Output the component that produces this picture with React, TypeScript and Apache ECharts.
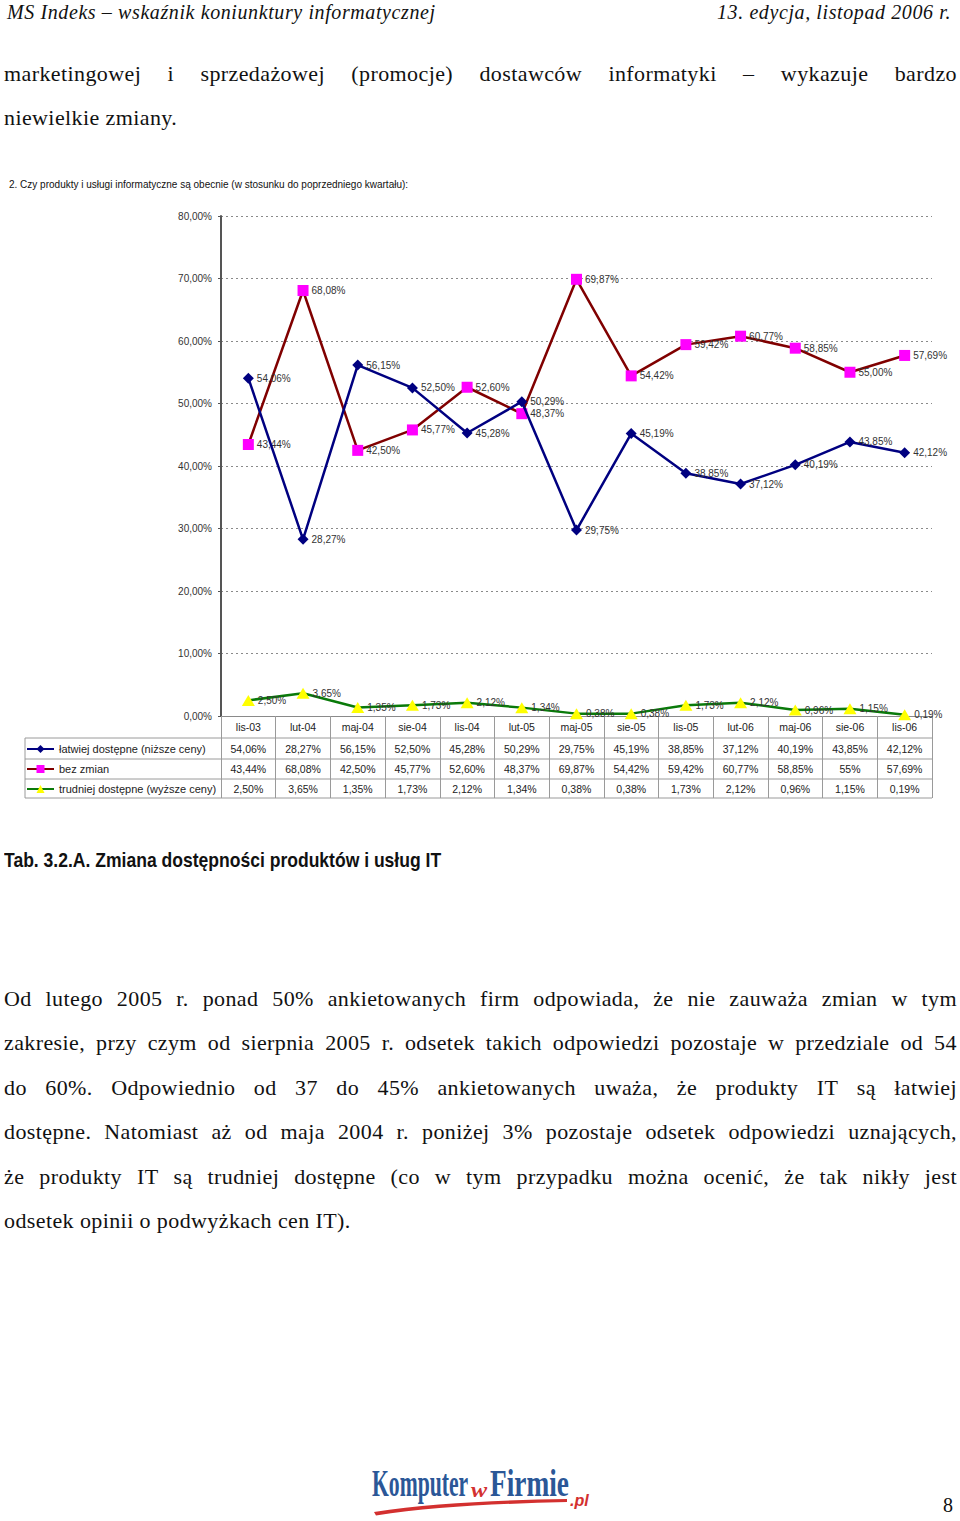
import React, { useEffect, useRef } from 'react';
import * as echarts from 'echarts';

// ---------- data ----------
const categories = ['lis-03', 'lut-04', 'maj-04', 'sie-04', 'lis-04', 'lut-05', 'maj-05', 'sie-05', 'lis-05', 'lut-06', 'maj-06', 'sie-06', 'lis-06'];
const easierValues = [54.06, 28.27, 56.15, 52.5, 45.28, 50.29, 29.75, 45.19, 38.85, 37.12, 40.19, 43.85, 42.12];
const unchangedValues = [43.44, 68.08, 42.5, 45.77, 52.6, 48.37, 69.87, 54.42, 59.42, 60.77, 58.85, 55, 57.69];
const harderValues = [2.5, 3.65, 1.35, 1.73, 2.12, 1.34, 0.38, 0.38, 1.73, 2.12, 0.96, 1.15, 0.19];
const seriesNames = ['łatwiej dostępne (niższe ceny)', 'bez zmian', 'trudniej dostępne (wyższe ceny)'];
const yMin = 0;
const yMax = 80;
const yStep = 10;

// ---------- texts ----------
const chartTitle = '2. Czy produkty i usługi informatyczne są obecnie (w stosunku do poprzedniego kwartału):';
const headerLeft = 'MS Indeks – wskaźnik koniunktury informatycznej';
const headerRight = '13. edycja, listopad 2006 r.';
const para1 = [
  'marketingowej i sprzedażowej (promocje) dostawców informatyki – wykazuje bardzo',
  'niewielkie zmiany.',
];
const caption = 'Tab. 3.2.A. Zmiana dostępności produktów i usług IT';
const para2 = [
  'Od lutego 2005 r. ponad 50% ankietowanych firm odpowiada, że nie zauważa zmian w tym',
  'zakresie, przy czym od sierpnia 2005 r. odsetek takich odpowiedzi pozostaje w przedziale od 54',
  'do 60%. Odpowiednio od 37 do 45% ankietowanych uważa, że produkty IT są łatwiej',
  'dostępne. Natomiast aż od maja 2004 r. poniżej 3% pozostaje odsetek odpowiedzi uznających,',
  'że produkty IT są trudniej dostępne (co w tym przypadku można ocenić, że tak nikły jest',
  'odsetek opinii o podwyżkach cen IT).',
];
const pageNumber = '8';

const fmt2 = (v: number) => v.toFixed(2).replace('.', ',') + '%';
const fmtTable = (v: number) => (Number.isInteger(v) ? `${v}%` : fmt2(v));

const SANS = '"Liberation Sans", Arial, sans-serif';
const SERIF = '"Liberation Serif", "Times New Roman", serif';

function TextLine({ text, top, justify }: any) {
  const base: any = {
    position: 'absolute',
    left: 4,
    width: 953,
    top,
    height: 26,
    fontFamily: SERIF,
    fontSize: 22,
    letterSpacing: '0.4px',
    lineHeight: '26px',
    color: '#111',
    whiteSpace: 'nowrap',
  };
  if (justify) {
    return (
      <div style={{ ...base, display: 'flex', justifyContent: 'space-between' }}>
        {text.split(' ').map((w: string, i: number) => (
          <span key={i}>{w}</span>
        ))}
      </div>
    );
  }
  return <div style={base}>{text}</div>;
}

function Chart() {
  const ref = useRef<HTMLDivElement>(null);
  useEffect(() => {
    if (!ref.current) return;
    const chart = echarts.init(ref.current, undefined, { renderer: 'svg' });
    const rows = [easierValues, unchangedValues, harderValues];
    const labelCommon = {
      show: true,
      position: 'right',
      distance: 3,
      fontSize: 10,
      color: '#333',
      fontFamily: SANS,
      formatter: (p: any) => fmt2(p.value),
    };
    chart.setOption({
      animation: false,
      backgroundColor: 'transparent',
      textStyle: { fontFamily: SANS },
      title: {
        text: chartTitle,
        left: 4,
        top: 174,
        textStyle: { fontSize: 10, fontWeight: 'normal', color: '#111', fontFamily: SANS },
      },
      legend: {
        orient: 'vertical',
        left: 26,
        top: 743,
        padding: 0,
        itemWidth: 27,
        itemHeight: 10,
        itemGap: 8,
        data: seriesNames,
        textStyle: { fontSize: 11, color: '#222', lineHeight: 12, fontFamily: SANS },
      },
      grid: { left: 221, top: 216, width: 711, height: 500, containLabel: false },
      xAxis: [
        {
          type: 'category',
          data: categories,
          boundaryGap: true,
          axisLine: { show: true, lineStyle: { color: '#8a8a8a', width: 1 } },
          axisTick: { show: true, length: 82, lineStyle: { color: '#9a9a9a' } },
          axisLabel: { interval: 0, margin: 5, fontSize: 10.5, color: '#222' },
          splitLine: { show: false },
        },
        ...rows.map((row, i) => ({
          type: 'category',
          data: categories,
          position: 'bottom',
          offset: 22 + 20 * i,
          boundaryGap: true,
          axisLine: { show: false },
          axisTick: { show: false },
          splitLine: { show: false },
          axisLabel: {
            interval: 0,
            margin: 5,
            fontSize: 10.5,
            color: '#222',
            formatter: (_v: string, idx: number) => fmtTable(row[idx]),
          },
        })),
      ],
      yAxis: {
        type: 'value',
        min: yMin,
        max: yMax,
        interval: yStep,
        axisLine: { show: true, lineStyle: { color: '#555', width: 2 } },
        axisTick: { show: true, length: 3, lineStyle: { color: '#555' } },
        axisLabel: { margin: 9, fontSize: 10, color: '#333', formatter: (v: number) => fmt2(v) },
        splitLine: { show: true, lineStyle: { color: '#8a8a8a', type: [2, 3], width: 1 } },
      },
      graphic: [
        ...[738, 759, 779, 798].map((y) => ({
          type: 'line',
          shape: { x1: 25, y1: y, x2: 932, y2: y },
          style: { stroke: '#9a9a9a', lineWidth: 1 },
          silent: true,
        })),
        {
          type: 'line',
          shape: { x1: 25, y1: 738, x2: 25, y2: 798 },
          style: { stroke: '#9a9a9a', lineWidth: 1 },
          silent: true,
        },
      ],
      series: [
        {
          name: seriesNames[0],
          type: 'line',
          data: easierValues,
          symbol: 'diamond',
          symbolSize: 11,
          lineStyle: { color: '#000080', width: 2.5 },
          itemStyle: { color: '#000080' },
          label: labelCommon,
          z: 3,
        },
        {
          name: seriesNames[1],
          type: 'line',
          data: unchangedValues,
          symbol: 'rect',
          symbolSize: 11,
          lineStyle: { color: '#800000', width: 2.5 },
          itemStyle: { color: '#FF00FF' },
          label: labelCommon,
          z: 2,
        },
        {
          name: seriesNames[2],
          type: 'line',
          data: harderValues,
          symbol: 'triangle',
          symbolSize: [13, 11],
          lineStyle: { color: '#0a7a0a', width: 2.5 },
          itemStyle: { color: '#FFFF00' },
          label: labelCommon,
          z: 2,
        },
      ],
    });
    return () => chart.dispose();
  }, []);
  return <div ref={ref} style={{ position: 'absolute', left: 0, top: 0, width: 960, height: 1521 }} />;
}

function Logo() {
  return (
    <svg
      width={240}
      height={66}
      viewBox="360 1455 240 66"
      style={{ position: 'absolute', left: 360, top: 1455 }}
    >
      <text transform="translate(372,1496) scale(0.57,1)" fontFamily={SERIF} fontWeight="bold" fontSize={38} fill="#2b5797">Komputer</text>
      <text transform="translate(471,1497) scale(1.1,1)" fontFamily={SERIF} fontStyle="italic" fontWeight="bold" fontSize={22} fill="#d3302f">w</text>
      <text transform="translate(490,1496) scale(0.72,1)" fontFamily={SERIF} fontWeight="bold" fontSize={38} fill="#2b5797">Firmie</text>
      <text transform="translate(570,1506) scale(0.95,1)" fontFamily={SANS} fontStyle="italic" fontWeight="bold" fontSize={17} fill="#d3302f">.pl</text>
      <path d="M374,1512 C430,1503 500,1500 567,1499 L567,1502 C500,1503.5 430,1507 376,1515.5 Z" fill="#d3302f" />
    </svg>
  );
}

const headerStyle: any = {
  position: 'absolute', top: 1.5, height: 20, fontFamily: SERIF, fontSize: 20, lineHeight: '20px',
  letterSpacing: '0.6px', fontStyle: 'italic', color: '#111', whiteSpace: 'nowrap',
};

export default function App() {
  return (
    <div style={{ position: 'absolute', left: 0, top: 0, width: 960, height: 1521, background: '#fff', overflow: 'hidden' }}>
      <Chart />
      <div style={{ ...headerStyle, left: 7 }}>{headerLeft}</div>
      <div style={{ ...headerStyle, right: 9 }}>{headerRight}</div>
      <TextLine text={para1[0]} top={61} justify />
      <TextLine text={para1[1]} top={105} />
      <div
        style={{
          position: 'absolute', left: 4, top: 848, fontFamily: SANS,
          fontWeight: 'bold', fontSize: 21, lineHeight: '24px', color: '#111', whiteSpace: 'nowrap',
          transform: 'scaleX(0.835)', transformOrigin: '0 0',
        }}
      >
        {caption}
      </div>
      {para2.map((t, i) => (
        <TextLine key={i} text={t} top={986 + i * 44.4} justify={i < para2.length - 1} />
      ))}
      <Logo />
      <div
        style={{
          position: 'absolute', left: 943, top: 1493, fontFamily: SERIF, fontSize: 20, lineHeight: '24px', color: '#111',
        }}
      >
        {pageNumber}
      </div>
    </div>
  );
}
